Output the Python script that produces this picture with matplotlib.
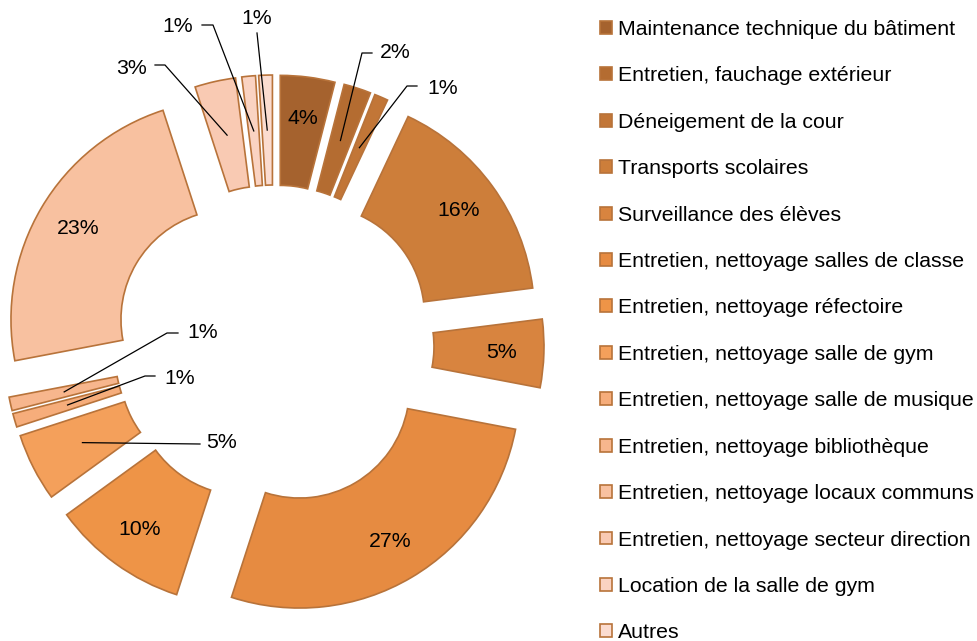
import numpy as np
import matplotlib
matplotlib.use("Agg")
import matplotlib.pyplot as plt

plt.rcParams['font.family'] = ['Liberation Sans', 'DejaVu Sans']

# data
categories = [
    "Maintenance technique du bâtiment",
    "Entretien, fauchage extérieur",
    "Déneigement de la cour",
    "Transports scolaires",
    "Surveillance des élèves",
    "Entretien, nettoyage salles de classe",
    "Entretien, nettoyage réfectoire",
    "Entretien, nettoyage salle de gym",
    "Entretien, nettoyage salle de musique",
    "Entretien, nettoyage bibliothèque",
    "Entretien, nettoyage locaux communs",
    "Entretien, nettoyage secteur direction",
    "Location de la salle de gym",
    "Autres",
]
shares = [4, 2, 1, 16, 5, 27, 10, 5, 1, 1, 23, 3, 1, 1]

colors = ["#A5622E", "#B46C31", "#C27637", "#CD7E3A", "#D8843F", "#E68B41",
          "#EE9447", "#F4A05B", "#F6AD7B", "#F7B68D", "#F8C1A0", "#F9CAB3",
          "#FAD3C2", "#FBDCD0"]
edge = "#B8733A"
fs = 15.3

# layout in pixels (pie center at image px (274, 345))
W, H = 978, 641
cx, cy = 274, 345
R, ring, expl = 220, 110, 50
lab_r = 178  # radius of inside labels

# outside labels: index -> (text xy, elbow xy, horizontal end xy) in image px
outside = {
    1: ((395, 52), (362, 53), (372, 53)),
    2: ((443, 88), (407, 86), (417, 86)),
    13: ((257, 18), (257, 33), (257, 33)),
    12: ((178, 27), (213, 25), (202, 25)),
    11: ((132, 68), (165, 65), (155, 65)),
    9: ((203, 333), (167, 333), (178, 333)),
    8: ((180, 378), (145, 376), (155, 376)),
    7: ((222, 443), (200, 444), (200, 444)),
}


def px(p):
    return p[0] - cx, cy - p[1]


fig = plt.figure(figsize=(W / 100, H / 100), dpi=100)
ax = fig.add_axes([0, 0, 560 / W, 1])

wedges, _ = ax.pie(shares, radius=R, explode=[expl] * len(shares),
                   startangle=90, counterclock=False, colors=colors,
                   wedgeprops=dict(width=ring, edgecolor=edge, linewidth=1.2))
ax.set_xlim(-cx, 560 - cx)
ax.set_ylim(-(H - cy), cy)
ax.set_aspect('auto')
ax.axis('off')

total = sum(shares)
start = 0.0
for i, v in enumerate(shares):
    mid = np.deg2rad((start + v / 2) / total * 360)  # clockwise from top
    start += v
    ox, oy = expl * np.sin(mid), expl * np.cos(mid)
    txt = f"{v}%"
    if i in outside:
        t, e, h = outside[i]
        sx = ox + (R - ring / 2) * np.sin(mid)
        sy = oy + (R - ring / 2) * np.cos(mid)
        e, h = px(e), px(h)
        ax.plot([sx, e[0], h[0]], [sy, e[1], h[1]], color='black', lw=0.9)
        tx, ty = px(t)
        ax.text(tx, ty, txt, ha='center', va='center', fontsize=fs)
    else:
        tx = ox + lab_r * np.sin(mid)
        ty = oy + lab_r * np.cos(mid)
        ax.text(tx, ty, txt, ha='center', va='center', fontsize=fs)

fig.legend(wedges, categories, loc='upper left',
           bbox_to_anchor=(600 / W, 1 - 20 / H), frameon=False,
           fontsize=fs, handlelength=0.56, handleheight=0.56,
           handletextpad=0.28, labelspacing=1.29, borderpad=0,
           borderaxespad=0)

fig.savefig("out.png", dpi=100)
